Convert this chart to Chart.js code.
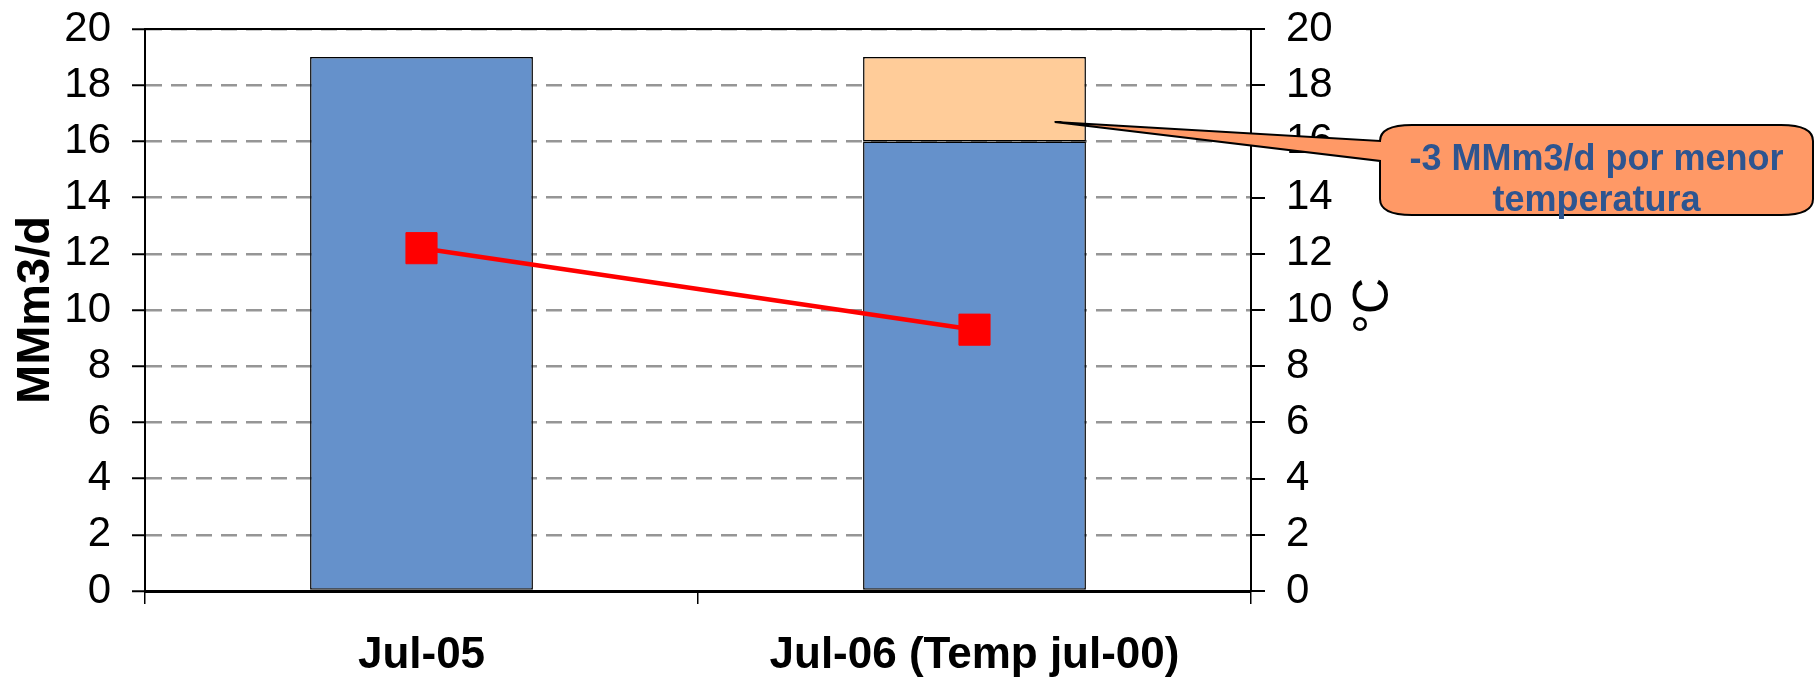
<!DOCTYPE html>
<html>
<head>
<meta charset="utf-8">
<script src="https://cdn.jsdelivr.net/npm/chart.js@4.4.1/dist/chart.umd.min.js"></script>
<style>
  html, body { margin: 0; padding: 0; background: #fff; }
  canvas { display: block; }
</style>
</head>
<body>
<canvas id="chart" width="1820" height="681"></canvas>
<script>
// datos del grafico
var categorias = ["Jul-05", "Jul-06 (Temp jul-00)"];
var consumo = [19, 16];          // MMm3/d
var efectoTemp = [null, 3];      // MMm3/d por menor temperatura
var temperatura = [12.2, 9.3];   // °C
var ejeMin = 0, ejeMax = 20, ejePaso = 2;
var notaTexto = ["-3 MMm3/d por menor", "temperatura"];

var fuente = "'Liberation Sans', Arial, sans-serif";

var extras = {
  id: 'extras',
  beforeDatasetsDraw: function(chart) {
    var a = chart.chartArea, ctx = chart.ctx;
    ctx.save();
    ctx.strokeStyle = '#000';
    ctx.lineWidth = 2;
    ctx.beginPath();
    ctx.moveTo(a.left, a.top);
    ctx.lineTo(a.right, a.top);
    ctx.stroke();
    ctx.restore();
  },
  afterDraw: function(chart) {
    var a = chart.chartArea, ctx = chart.ctx;

    // titulo eje derecho (leido de abajo hacia arriba)
    ctx.save();
    ctx.translate(1374, (a.top + a.bottom) / 2 - 4);
    ctx.rotate(-Math.PI / 2);
    ctx.font = '50px ' + fuente;
    ctx.fillStyle = '#000';
    ctx.textAlign = 'center';
    ctx.textBaseline = 'middle';
    ctx.fillText('°C', 0, 0);
    ctx.restore();

    // globo de nota
    var bar = chart.getDatasetMeta(2).data[1];
    var tipX = bar.x + bar.width * 0.36;
    var tipY = bar.base + (bar.y - bar.base) * 0.23;
    var bx = 1380, by = 125, bw = 433, bh = 90, rx = 32, ry = 16;
    ctx.save();
    ctx.beginPath();
    ctx.moveTo(bx + rx, by);
    ctx.lineTo(bx + bw - rx, by);
    ctx.quadraticCurveTo(bx + bw, by, bx + bw, by + ry);
    ctx.lineTo(bx + bw, by + bh - ry);
    ctx.quadraticCurveTo(bx + bw, by + bh, bx + bw - rx, by + bh);
    ctx.lineTo(bx + rx, by + bh);
    ctx.quadraticCurveTo(bx, by + bh, bx, by + bh - ry);
    ctx.lineTo(bx, by + 36);
    ctx.lineTo(tipX, tipY);
    ctx.lineTo(bx, by + ry);
    ctx.quadraticCurveTo(bx, by, bx + rx, by);
    ctx.closePath();
    ctx.fillStyle = '#FF9966';
    ctx.fill();
    ctx.lineWidth = 2;
    ctx.strokeStyle = '#000';
    ctx.stroke();

    ctx.font = 'bold 36px ' + fuente;
    ctx.fillStyle = '#2E5590';
    ctx.textAlign = 'center';
    ctx.textBaseline = 'alphabetic';
    ctx.fillText(notaTexto[0], bx + bw / 2, 170);
    ctx.fillText(notaTexto[1], bx + bw / 2, 211);
    ctx.restore();
  }
};

function sinRelleno(s) { s.paddingTop = 0; s.paddingBottom = 0; }

var ctx = document.getElementById('chart').getContext('2d');
window.grafico = new Chart(ctx, {
  type: 'bar',
  data: {
    labels: categorias,
    datasets: [
      {
        type: 'line',
        label: 'Temperatura',
        data: temperatura,
        yAxisID: 'y2',
        borderColor: '#FF0000',
        borderWidth: 4.5,
        pointStyle: 'rect',
        pointRadius: 22,
        pointBackgroundColor: '#FF0000',
        pointBorderColor: '#FF0000',
        pointBorderWidth: 1,
        tension: 0,
        fill: false,
        order: 0
      },
      {
        label: 'Consumo',
        data: consumo,
        backgroundColor: '#6591CB',
        borderColor: '#000',
        borderWidth: 1.5,
        borderSkipped: false,
        barPercentage: 0.403,
        categoryPercentage: 1,
        order: 1
      },
      {
        label: 'Efecto temperatura',
        data: efectoTemp,
        backgroundColor: '#FFCC99',
        borderColor: '#000',
        borderWidth: 1.5,
        borderSkipped: false,
        barPercentage: 0.403,
        categoryPercentage: 1,
        order: 1
      }
    ]
  },
  options: {
    responsive: false,
    animation: false,
    devicePixelRatio: 1,
    layout: { padding: { top: 29, left: 0, right: 0, bottom: 0 } },
    plugins: { legend: { display: false }, tooltip: { enabled: false } },
    scales: {
      x: {
        stacked: true,
        grid: { display: true, drawOnChartArea: false, offset: true, color: '#000', lineWidth: 1.5, tickLength: 13 },
        border: { color: '#000', width: 3 },
        ticks: { font: { family: fuente, size: 44, weight: 'bold' }, color: '#000', padding: 25, maxRotation: 0, autoSkip: false },
        afterFit: function(s) { s.height = 90; s.paddingLeft = 0; s.paddingRight = 0; }
      },
      y: {
        stacked: true,
        min: ejeMin, max: ejeMax,
        ticks: { stepSize: ejePaso, autoSkip: false, font: { family: fuente, size: 42 }, color: '#000', padding: 21 },
        grid: { color: '#969696', lineWidth: 2.5, tickColor: '#000', tickWidth: 2, tickLength: 13 },
        border: { color: '#000', width: 2, dash: [16, 9] },
        title: { display: true, text: 'MMm3/d', color: '#000', font: { family: fuente, size: 47, weight: 'bold' }, padding: { top: 8, bottom: 0 } },
        afterFit: function(s) { s.width = 145; sinRelleno(s); }
      },
      y2: {
        position: 'right',
        min: ejeMin, max: ejeMax,
        ticks: { stepSize: ejePaso, autoSkip: false, font: { family: fuente, size: 42 }, color: '#000', padding: 21 },
        grid: { drawOnChartArea: false, color: '#000', lineWidth: 2, tickLength: 14 },
        border: { color: '#000', width: 2 },
        afterFit: function(s) { s.width = 569; sinRelleno(s); }
      }
    }
  },
  plugins: [extras]
});
</script>
</body>
</html>
